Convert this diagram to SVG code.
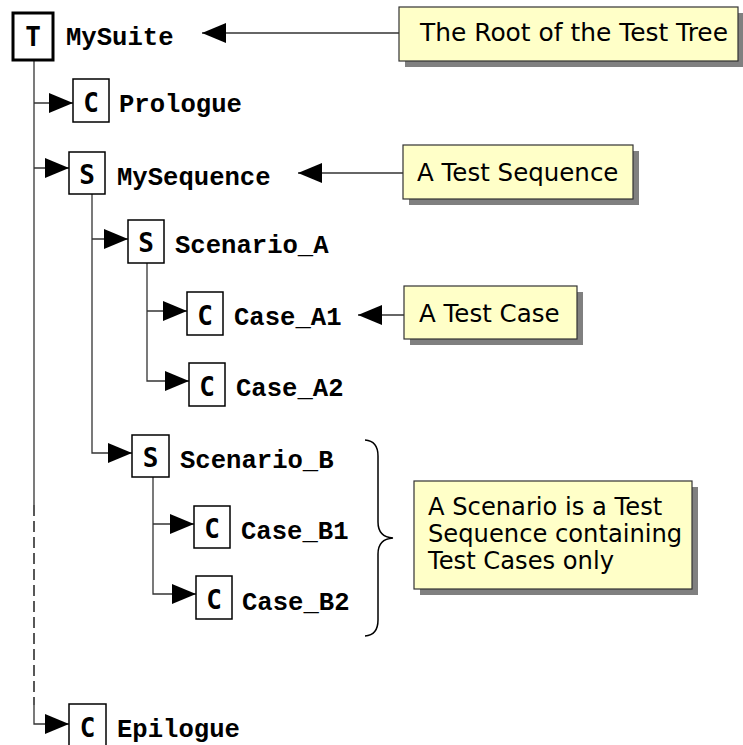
<svg xmlns="http://www.w3.org/2000/svg" width="743" height="745" viewBox="0 0 743 745">
<style>
.bg{fill:#fff}
.box{fill:#fff;stroke:#000;stroke-width:1.5}
.tbox{fill:#fff;stroke:#000;stroke-width:3}
.letter{font-family:"DejaVu Sans Mono",monospace;font-weight:bold;font-size:26px;fill:#000;text-anchor:middle}
.label{font-family:"Liberation Mono",monospace;font-weight:bold;font-size:25.6px;fill:#000}
.conn{fill:none;stroke:#333;stroke-width:1.3}
.dash{stroke:#111;stroke-width:1.4;stroke-dasharray:11 5}
.note{fill:#ffffc8;stroke:#333;stroke-width:1.2}
.shadow{fill:#808080}
.ntext{font-family:"DejaVu Sans",sans-serif;font-size:24.5px;fill:#000}
.big{font-size:24.9px}
.small{font-size:24.2px}
.brace{fill:none;stroke:#000;stroke-width:1.5}
</style>
<defs>
<marker id="ah" markerWidth="24" markerHeight="20" refX="24" refY="10" orient="auto" markerUnits="userSpaceOnUse">
<path d="M0,0 L24,10 L0,20 Z" fill="#000"/>
</marker>
</defs>
<rect class="bg" x="0" y="0" width="743" height="745"/>

<g id="connectors">
<path class="conn" d="M34,60 V505"/>
<path class="conn dash" d="M34,505 V705"/>
<path class="conn" d="M34,705 V724 H69" marker-end="url(#ah)"/>
<path class="conn" d="M34,103 H73" marker-end="url(#ah)"/>
<path class="conn" d="M34,168 H69" marker-end="url(#ah)"/>
<path class="conn" d="M92,194 V453 H132" marker-end="url(#ah)"/>
<path class="conn" d="M92,239 H128" marker-end="url(#ah)"/>
<path class="conn" d="M147,263 V381 H189" marker-end="url(#ah)"/>
<path class="conn" d="M147,311 H187" marker-end="url(#ah)"/>
<path class="conn" d="M153,477 V594 H196" marker-end="url(#ah)"/>
<path class="conn" d="M153,524 H194" marker-end="url(#ah)"/>
<path class="conn" d="M399,33 H202" marker-end="url(#ah)"/>
<path class="conn" d="M403,173 H298" marker-end="url(#ah)"/>
<path class="conn" d="M404,315 H358" marker-end="url(#ah)"/>
</g>

<g id="MySuite">
<rect class="tbox" x="13" y="13" width="40" height="47"/>
<text class="letter" x="33" y="46">T</text>
<text class="label" x="66" y="45">MySuite</text>
</g>
<g id="Prologue">
<rect class="box" x="73" y="79" width="36" height="43"/>
<text class="letter" x="91" y="112">C</text>
<text class="label" x="119" y="112">Prologue</text>
</g>
<g id="MySequence">
<rect class="box" x="69" y="152" width="36" height="42"/>
<text class="letter" x="87" y="184">S</text>
<text class="label" x="117" y="185">MySequence</text>
</g>
<g id="Scenario_A">
<rect class="box" x="128" y="220" width="36" height="43"/>
<text class="letter" x="146" y="252">S</text>
<text class="label" x="175" y="253">Scenario_A</text>
</g>
<g id="Case_A1">
<rect class="box" x="187" y="292" width="36" height="43"/>
<text class="letter" x="205" y="325">C</text>
<text class="label" x="234" y="325">Case_A1</text>
</g>
<g id="Case_A2">
<rect class="box" x="189" y="363" width="36" height="43"/>
<text class="letter" x="207" y="396">C</text>
<text class="label" x="236" y="396">Case_A2</text>
</g>
<g id="Scenario_B">
<rect class="box" x="132" y="435" width="37" height="42"/>
<text class="letter" x="150.5" y="467">S</text>
<text class="label" x="180" y="468">Scenario_B</text>
</g>
<g id="Case_B1">
<rect class="box" x="194" y="506" width="36" height="42"/>
<text class="letter" x="212" y="538">C</text>
<text class="label" x="241" y="539">Case_B1</text>
</g>
<g id="Case_B2">
<rect class="box" x="196" y="576" width="36" height="43"/>
<text class="letter" x="214" y="609">C</text>
<text class="label" x="242" y="610">Case_B2</text>
</g>
<g id="Epilogue">
<rect class="box" x="69" y="704" width="37" height="50"/>
<text class="letter" x="87.5" y="737">C</text>
<text class="label" x="117" y="737">Epilogue</text>
</g>

<g id="note_root">
<rect class="shadow" x="405" y="13" width="339" height="54"/>
<rect class="note" x="399" y="7" width="339" height="54"/>
<text class="ntext big" x="420" y="41">The Root of the Test Tree</text>
</g>
<g id="note_sequence">
<rect class="shadow" x="409" y="151" width="230" height="54"/>
<rect class="note" x="403" y="145" width="230" height="54"/>
<text class="ntext" x="417" y="181">A Test Sequence</text>
</g>
<g id="note_case">
<rect class="shadow" x="410" y="292" width="173" height="53"/>
<rect class="note" x="404" y="286" width="173" height="53"/>
<text class="ntext" x="419" y="322">A Test Case</text>
</g>
<g id="brace">
<path class="brace" d="M365,440 Q378,441 378,456 V522 Q378,537 393,538 Q378,539 378,554 V620 Q378,635 365,636"/>
</g>
<g id="note_scenario">
<rect class="shadow" x="420" y="487" width="278" height="108"/>
<rect class="note" x="414" y="481" width="278" height="108"/>
<text class="ntext small" x="428" y="515">A Scenario is a Test</text>
<text class="ntext small" x="428" y="542">Sequence containing</text>
<text class="ntext small" x="428" y="569">Test Cases only</text>
</g>
</svg>
